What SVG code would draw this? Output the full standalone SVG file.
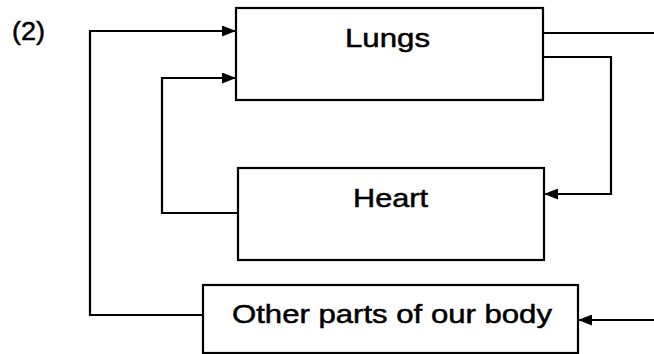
<svg xmlns="http://www.w3.org/2000/svg" width="654" height="354" viewBox="0 0 654 354">
  <style>
    .box { fill: #ffffff; stroke: #000000; stroke-width: 2.2; }
    .lbl { font-family: "Liberation Sans", Arial, sans-serif; font-size: 26px; fill: #000000; stroke: #000000; stroke-width: 0.5; }
    .wire { fill: none; stroke: #000000; stroke-width: 2.2; }
  </style>
  <defs>
    <marker id="arr" viewBox="0 0 14 11" refX="14" refY="5.5" markerWidth="14" markerHeight="11" markerUnits="userSpaceOnUse" orient="auto">
      <path d="M0,0 L14,5.5 L0,11 Z" fill="#000000"/>
    </marker>
  </defs>
  <rect width="654" height="354" fill="#ffffff"/>
  <text class="lbl" x="12" y="40" textLength="33" lengthAdjust="spacingAndGlyphs">(2)</text>

  <g id="lungs">
    <rect class="box" x="236" y="8" width="307" height="92"/>
    <text class="lbl" x="345" y="47" textLength="85" lengthAdjust="spacingAndGlyphs">Lungs</text>
  </g>
  <g id="heart">
    <rect class="box" x="238" y="168" width="306" height="92"/>
    <text class="lbl" x="353" y="207" textLength="75" lengthAdjust="spacingAndGlyphs">Heart</text>
  </g>
  <g id="other">
    <rect class="box" x="203" y="285" width="375" height="68"/>
    <text class="lbl" x="232" y="323" textLength="320" lengthAdjust="spacingAndGlyphs">Other parts of our body</text>
  </g>

  <g id="connectors">
    <polyline class="wire" points="203,315 90,315 90,31 236,31" marker-end="url(#arr)"/>
    <polyline class="wire" points="238,213 162,213 162,78 236,78" marker-end="url(#arr)"/>
    <polyline class="wire" points="543,57 611,57 611,194 544,194" marker-end="url(#arr)"/>
    <line class="wire" x1="543" y1="33" x2="654" y2="33"/>
    <line class="wire" x1="654" y1="320" x2="578" y2="320" marker-end="url(#arr)"/>
  </g>
</svg>
